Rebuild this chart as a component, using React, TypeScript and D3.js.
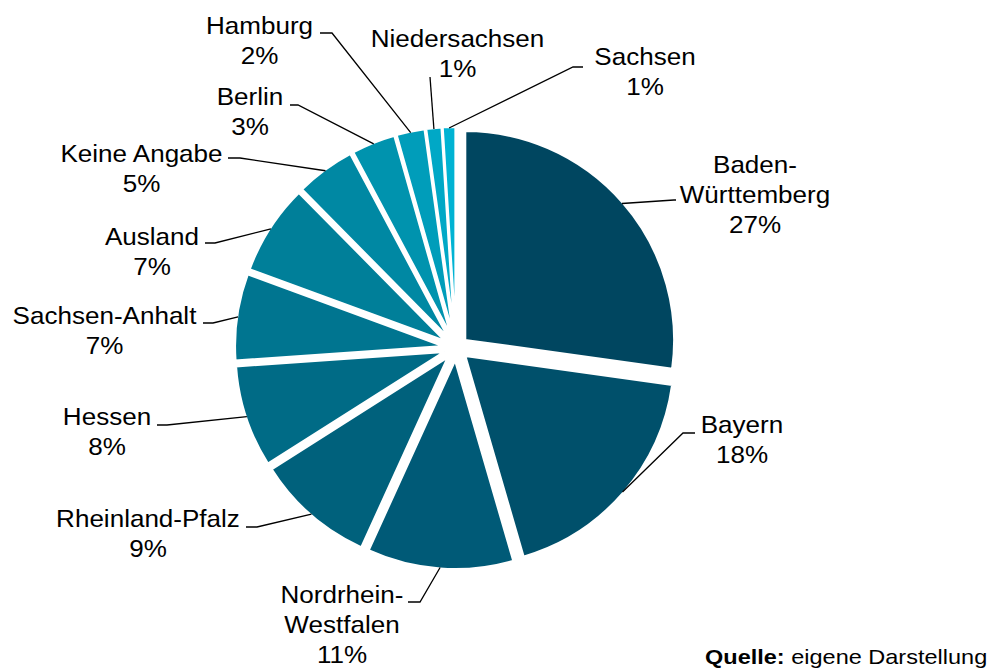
import React from "react";
import * as d3 from "d3";

// ---- data ----
const categories = [
  "Baden-Württemberg",
  "Bayern",
  "Nordrhein-Westfalen",
  "Rheinland-Pfalz",
  "Hessen",
  "Sachsen-Anhalt",
  "Ausland",
  "Keine Angabe",
  "Berlin",
  "Hamburg",
  "Niedersachsen",
  "Sachsen",
];
const values = [27.2, 18.3, 11.3, 9.2, 7.9, 6.7, 7.0, 4.6, 3.4, 2.2, 1.2, 1.0];

// ---- style / layout ----
const colors = [
  "#004660", "#00506b", "#005a77", "#00617c", "#006b86", "#007590",
  "#007f99", "#0088a3", "#0093ae", "#009dba", "#00a8c6", "#00b3d3",
];
// label centre x, first baseline y, leader elbow, leader end at label, wrap after hyphen
const labelLayout = [
  { cx: 755, y: 173, elbow: [674, 200], end: [676, 200], wrap: true },
  { cx: 742, y: 433, elbow: [683, 433], end: [695, 433], wrap: false },
  { cx: 342, y: 603, elbow: [420, 602], end: [408, 602], wrap: true },
  { cx: 148, y: 527, elbow: [257, 527], end: [246, 527], wrap: false },
  { cx: 107, y: 425, elbow: [167, 425], end: [157, 425], wrap: false },
  { cx: 104.5, y: 324, elbow: [213, 323], end: [203, 323], wrap: false },
  { cx: 152, y: 245, elbow: [215, 243], end: [205, 243], wrap: false },
  { cx: 141.5, y: 162, elbow: [240, 158], end: [228, 158], wrap: false },
  { cx: 250, y: 105, elbow: [298, 105], end: [290, 105], wrap: false },
  { cx: 259.5, y: 34, elbow: [332, 33], end: [320, 33], wrap: false },
  { cx: 457.5, y: 47, elbow: [430, 77], end: [430, 77], wrap: false },
  { cx: 645, y: 65, elbow: [573, 67], end: [583, 67], wrap: false },
];

const W = 993;
const H = 669;
const CX = 456;
const CY = 348;
const R = 209.3;
const EXPLODE = 12;
const FONT = "'Liberation Sans', Arial, Helvetica, sans-serif";
const LABEL_SIZE = 24;
const SX = 1.085;
const LINE_H = 30;

export default function App() {
  const total = d3.sum(values);
  const pie = d3.pie<number>().sort(null).value((d) => d).startAngle(0).endAngle(2 * Math.PI);
  const arcs = pie(values);
  const arcGen = d3.arc<d3.PieArcDatum<number>>().innerRadius(0).outerRadius(R);
  const Rvis = R - 1.2;

  return (
    <svg
      width={W}
      height={H}
      viewBox={`0 0 ${W} ${H}`}
      style={{ position: "absolute", left: 0, top: 0, background: "#fff" }}
    >
      <rect x={0} y={0} width={W} height={H} fill="#fff" />
      {arcs.map((a, i) => {
        const mid = (a.startAngle + a.endAngle) / 2;
        const ox = EXPLODE * Math.sin(mid);
        const oy = -EXPLODE * Math.cos(mid);
        return (
          <path
            key={"s" + i}
            d={arcGen(a) || ""}
            transform={`translate(${CX + ox},${CY + oy})`}
            fill={colors[i]}
            stroke="#fff"
            strokeWidth={2.5}
          />
        );
      })}
      {arcs.map((a, i) => {
        const mid = (a.startAngle + a.endAngle) / 2;
        const ox = CX + EXPLODE * Math.sin(mid);
        const oy = CY - EXPLODE * Math.cos(mid);
        const px = ox + Rvis * Math.sin(mid);
        const py = oy - Rvis * Math.cos(mid);
        const L = labelLayout[i];
        const pts = [[px, py], L.elbow, L.end];
        return (
          <polyline
            key={"l" + i}
            points={pts.map((p) => p.join(",")).join(" ")}
            fill="none"
            stroke="#000"
            strokeWidth={1.3}
          />
        );
      })}
      {categories.map((c, i) => {
        const L = labelLayout[i];
        const pct = Math.round((values[i] / total) * 100) + "%";
        let lines: string[] = [c];
        if (L.wrap) {
          const k = c.indexOf("-");
          lines = [c.slice(0, k + 1), c.slice(k + 1)];
        }
        lines = [...lines, pct];
        return (
          <g key={"t" + i}>
            {lines.map((ln, j) => (
              <text
                key={j}
                transform={`translate(${L.cx},${L.y + j * LINE_H}) scale(${SX},1)`}
                textAnchor="middle"
                fontFamily={FONT}
                fontSize={LABEL_SIZE}
                fill="#000"
              >
                {ln}
              </text>
            ))}
          </g>
        );
      })}
      <text
        transform={`translate(705,664) scale(1.12,1)`}
        fontFamily={FONT}
        fontSize={21}
        fill="#000"
      >
        <tspan fontWeight="bold">Quelle:</tspan>
        <tspan> eigene Darstellung</tspan>
      </text>
    </svg>
  );
}
